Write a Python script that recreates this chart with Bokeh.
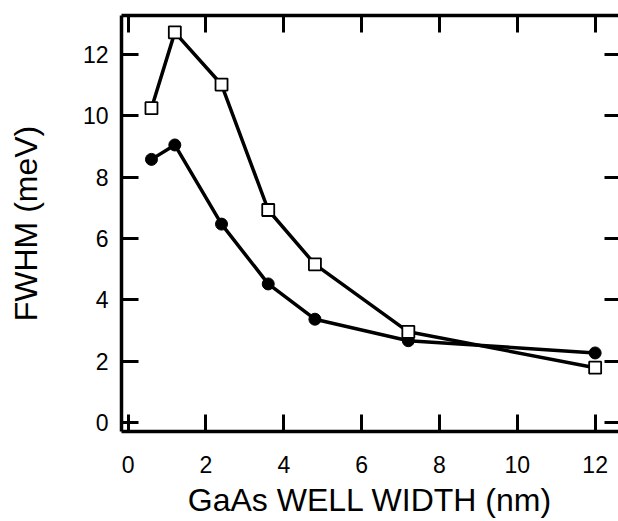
from bokeh.plotting import figure
from bokeh.models import LinearAxis, Range1d, FixedTicker, CustomLabelingPolicy
from bokeh.embed import file_html
from bokeh.resources import INLINE

# Data
well_width = [0.6, 1.2, 2.4, 3.6, 4.8, 7.2, 12.0]
fwhm_open = [10.25, 12.72, 11.02, 6.93, 5.16, 2.96, 1.79]
fwhm_filled = [8.58, 9.05, 6.47, 4.52, 3.37, 2.67, 2.27]

x_ticks = [0, 2, 4, 6, 8, 10, 12]
y_ticks = [0, 2, 4, 6, 8, 10, 12]

FONT = "Liberation Sans"

p = figure(width=618, height=521, output_backend="svg", toolbar_location=None,
           x_range=Range1d(-0.17, 12.6), y_range=Range1d(-0.29, 13.27),
           min_border_left=121, min_border_right=0, min_border_top=15,
           min_border_bottom=90, x_axis_location=None, y_axis_location=None)
p.outline_line_color = None
p.xgrid.visible = False
p.ygrid.visible = False
p.background_fill_color = "white"
p.border_fill_color = "white"

no_labels = CustomLabelingPolicy(code="""
for (const i of indices) { indices.unset(i) }
return indices
""")

def style(ax, ticks, labels=True, line=True, tick_in=17):
    ax.ticker = FixedTicker(ticks=ticks)
    ax.minor_tick_line_color = None
    ax.major_tick_in = tick_in
    ax.major_tick_out = 0
    ax.major_tick_line_width = 3
    ax.major_tick_line_color = "black"
    ax.axis_line_width = 3.5 if line else 0
    ax.axis_line_color = "black" if line else None
    if labels:
        ax.major_label_text_font = FONT
        ax.major_label_text_font_size = "23px"
        ax.major_label_text_color = "black"
        ax.axis_label_text_font = FONT
        ax.axis_label_text_font_size = "32px"
        ax.axis_label_text_font_style = "normal"
        ax.axis_label_text_color = "black"
    else:
        ax.major_label_policy = no_labels
        ax.major_label_text_font_size = "0px"
        ax.major_label_standoff = 0

bottom = LinearAxis(axis_label="GaAs WELL WIDTH (nm)")
style(bottom, x_ticks)
bottom.major_label_standoff = 24
bottom.axis_label_standoff = 6
p.add_layout(bottom, "below")

left = LinearAxis(axis_label="FWHM (meV)")
style(left, y_ticks)
left.major_label_standoff = 13
left.axis_label_standoff = 36
p.add_layout(left, "left")

top = LinearAxis()
style(top, x_ticks, labels=False)
p.add_layout(top, "above")

right = LinearAxis()
style(right, y_ticks, labels=False, line=False, tick_in=14)
p.add_layout(right, "right")

p.line(well_width, fwhm_open, line_color="black", line_width=3.5)
p.line(well_width, fwhm_filled, line_color="black", line_width=3.5)
p.scatter(well_width, fwhm_filled, marker="circle", size=12,
          fill_color="black", line_color="black", line_width=1)
p.scatter(well_width, fwhm_open, marker="square", size=12,
          fill_color="white", line_color="black", line_width=1.8)

open("out.html", "w").write(file_html(p, INLINE))
